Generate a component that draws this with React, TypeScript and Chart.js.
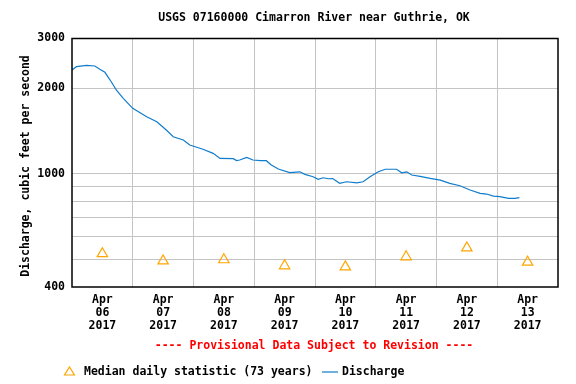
import React, { useEffect, useRef } from "react";
import { Chart, registerables } from "chart.js";

Chart.register(...registerables);

// Hours since Apr 06 2017 00:00
const dischargeHours = [0, 1.75, 5.75, 9, 11, 13, 15.5, 17.5, 20.25, 24, 29.5, 33.5, 37.25, 40, 44, 46.5, 47.75, 51.75, 55.75, 58.5, 63.75, 65, 66.25, 69, 71.5, 74.5, 76.75, 78.75, 81.5, 86, 90, 92, 95.25, 97.25, 99.25, 101.25, 103, 105.75, 108.5, 112.5, 115, 117.75, 121, 123.75, 128.25, 130.25, 132.25, 134.25, 137.5, 141.5, 145.5, 149.25, 153.25, 157.25, 161.25, 163.75, 166.5, 169, 172.5, 175, 176.75];
const dischargeValues = [2324, 2387, 2414, 2400, 2337, 2281, 2113, 1976, 1847, 1703, 1591, 1528, 1428, 1353, 1317, 1265, 1255, 1222, 1182, 1135, 1132, 1115, 1120, 1143, 1120, 1115, 1114, 1075, 1041, 1012, 1018, 997, 978, 958, 970, 962, 964, 927, 939, 931, 939, 978, 1018, 1039, 1039, 1010, 1018, 992, 981, 965, 952, 927, 909, 878, 855, 850, 836, 832, 821, 821, 825];

const medianHours = [12, 36, 60, 84, 108, 132, 156, 180];
const medianValues = [524, 494, 499, 475, 471, 511, 549, 489];

const dayLabels = [["Apr", "06", "2017"], ["Apr", "07", "2017"], ["Apr", "08", "2017"], ["Apr", "09", "2017"], ["Apr", "10", "2017"], ["Apr", "11", "2017"], ["Apr", "12", "2017"], ["Apr", "13", "2017"]];

const yTickValues = [400, 500, 600, 700, 800, 900, 1000, 2000, 3000];
const yLabeledTicks = [400, 1000, 2000, 3000];
const yGridTicks = [500, 600, 700, 800, 900, 1000, 2000];

const titleText = "USGS 07160000 Cimarron River near Guthrie, OK";
const yAxisTitle = "Discharge, cubic feet per second";
const provisionalText = "---- Provisional Data Subject to Revision ----";
const legendMedian = "Median daily statistic (73 years)";
const legendDischarge = "Discharge";

const FAMILY = '"DejaVu Sans Mono", monospace';
const FONT = `bold 11.5px ${FAMILY}`;
const LINE_COLOR = "#0f7ccc";
const TRI_COLOR = "#ffa500";
const GRID_COLOR = "#c4c4c4";

const decorPlugin = {
  id: "decor",
  afterDraw(chart: any) {
    const ctx = chart.ctx;
    const a = chart.chartArea;
    ctx.save();
    // border
    ctx.strokeStyle = "#000";
    ctx.lineWidth = 1.5;
    ctx.strokeRect(a.left, a.top, a.right - a.left, a.bottom - a.top);
    ctx.font = FONT;
    ctx.fillStyle = "#000";
    ctx.textAlign = "center";
    ctx.textBaseline = "middle";
    ctx.fillText(titleText, 314, 18);
    // y title
    ctx.save();
    ctx.translate(26, 166);
    ctx.rotate(-Math.PI / 2);
    ctx.fillText(yAxisTitle, 0, 0);
    ctx.restore();
    // provisional
    ctx.fillStyle = "#ff0000";
    ctx.fillText(provisionalText, 314, 346);
    // legend
    const ly = 372;
    ctx.strokeStyle = TRI_COLOR;
    ctx.lineWidth = 1.2;
    ctx.beginPath();
    ctx.moveTo(69.5, ly - 5);
    ctx.lineTo(74.5, ly + 3);
    ctx.lineTo(64.5, ly + 3);
    ctx.closePath();
    ctx.stroke();
    ctx.fillStyle = "#000";
    ctx.textAlign = "left";
    ctx.fillText(legendMedian, 84, ly);
    ctx.strokeStyle = LINE_COLOR;
    ctx.lineWidth = 1.2;
    ctx.beginPath();
    ctx.moveTo(322, ly);
    ctx.lineTo(338, ly);
    ctx.stroke();
    ctx.fillText(legendDischarge, 342, ly);
    ctx.restore();
  },
};

export default function App() {
  const canvasRef = useRef<HTMLCanvasElement | null>(null);

  useEffect(() => {
    document.body.style.margin = "0";
    const canvas = canvasRef.current;
    if (!canvas) return;
    const chart = new Chart(canvas, {
      type: "line",
      data: {
        datasets: [
          {
            label: legendDischarge,
            data: dischargeHours.map((h, i) => ({ x: h, y: dischargeValues[i] })),
            borderColor: LINE_COLOR,
            borderWidth: 1.2,
            pointRadius: 0,
            tension: 0,
            fill: false,
          },
          {
            label: legendMedian,
            data: medianHours.map((h, i) => ({ x: h, y: medianValues[i] })),
            showLine: false,
            pointStyle: "triangle",
            pointRadius: 6,
            pointBorderColor: TRI_COLOR,
            pointBackgroundColor: "rgba(255,255,255,0)",
            pointBorderWidth: 1.2,
          },
        ],
      },
      options: {
        responsive: false,
        animation: false,
        devicePixelRatio: 1,
        layout: { padding: { top: 38.5, right: 18, left: 0, bottom: 0 } },
        plugins: {
          legend: { display: false },
          title: { display: false },
          tooltip: { enabled: false },
        },
        scales: {
          x: {
            type: "linear",
            min: 0,
            max: 192,
            border: { display: false },
            afterBuildTicks: (scale: any) => {
              const t = [];
              for (let v = 0; v <= 192; v += 12) t.push({ value: v });
              scale.ticks = t;
            },
            afterFit: (scale: any) => {
              scale.height = 97;
            },
            grid: {
              drawTicks: false,
              lineWidth: 1,
              color: (c: any) => {
                const v = c.tick ? c.tick.value : 0;
                return v % 24 === 0 && v > 0 && v < 192 ? GRID_COLOR : "rgba(0,0,0,0)";
              },
            },
            ticks: {
              autoSkip: false,
              maxRotation: 0,
              padding: 7,
              color: "#000",
              font: { family: FAMILY, size: 11.5, weight: "bold", lineHeight: 1.11 },
              callback: (value: any) => {
                const v = Number(value);
                if (v % 24 === 12) return dayLabels[(v - 12) / 24];
                return "";
              },
            },
          },
          y: {
            type: "logarithmic",
            min: 400,
            max: 3000,
            border: { display: false },
            afterBuildTicks: (scale: any) => {
              scale.ticks = yTickValues.map((v) => ({ value: v }));
            },
            afterFit: (scale: any) => {
              scale.width = 72;
            },
            grid: {
              drawTicks: false,
              lineWidth: 1,
              color: (c: any) => {
                const v = c.tick ? c.tick.value : 0;
                return yGridTicks.includes(v) ? GRID_COLOR : "rgba(0,0,0,0)";
              },
            },
            ticks: {
              autoSkip: false,
              padding: 7,
              color: "#000",
              font: { family: FAMILY, size: 11.5, weight: "bold" },
              callback: (value: any) => {
                const v = Number(value);
                return yLabeledTicks.includes(v) ? String(v) : "";
              },
            },
          },
        },
      },
      plugins: [decorPlugin],
    } as any);
    return () => chart.destroy();
  }, []);

  return (
    <div style={{ width: 576, height: 384, background: "#fff" }}>
      <canvas ref={canvasRef} width={576} height={384} style={{ display: "block" }} />
    </div>
  );
}
